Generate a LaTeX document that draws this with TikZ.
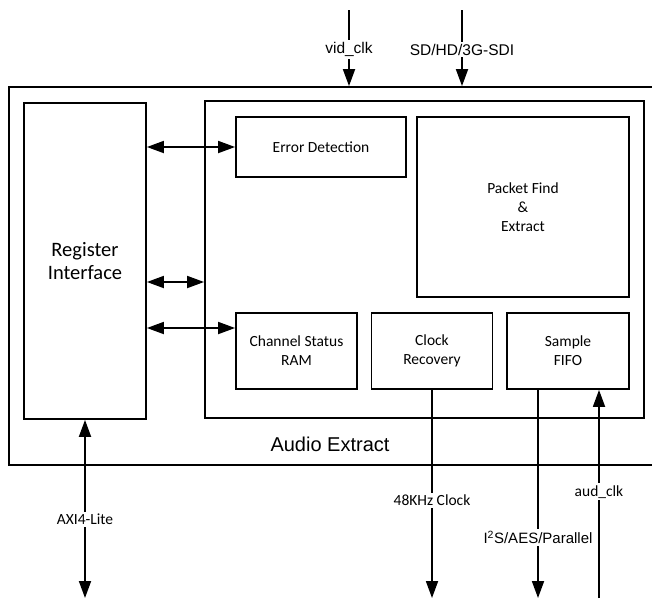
\documentclass[tikz,border=0pt]{standalone}
\usepackage{fontspec}
\setmainfont{Carlito}
\newfontfamily\arialfont{Liberation Sans}
\usetikzlibrary{arrows.meta}

\tikzset{
  frame/.style={draw, line width=1.8pt, inner sep=0pt},
  blk/.style={frame, align=center, font=\fontsize{15.5}{19}\selectfont},
  wire/.style={line width=1.8pt},
  tag/.style={fill=white, inner sep=2pt, font=\fontsize{15.5}{18}\selectfont},
  tagsf/.style={fill=white, inner sep=2pt, font=\arialfont\fontsize{15.5}{18}\selectfont},
}

\begin{document}
\begin{tikzpicture}[x=1pt, y=-1pt, >={Triangle[length=17pt,width=12pt]}]
    \useasboundingbox (0,0) rectangle (652,598);

    % ---- Audio Extract block ----
    \node[frame, minimum width=671pt, minimum height=378pt] (ae) at (344.5,276) {};
    \node[font=\arialfont\fontsize{20}{24}\selectfont] (aelbl) at (330,444) {Audio Extract};

    % ---- register interface ----
    \node[blk, minimum width=122pt, minimum height=316pt,
      font=\fontsize{20.5}{23}\selectfont] (reg) at (85,261) {Register\\Interface};

    % ---- core and sub blocks ----
    \node[frame, minimum width=439pt, minimum height=317pt] (core) at (424.5,259.5) {};
    \node[blk, minimum width=170pt, minimum height=60pt]  (err)  at (321,147)   {Error Detection};
    \node[blk, minimum width=212pt, minimum height=180pt] (pkt)  at (523,207)   {Packet Find\\\&\\Extract};
    \node[blk, minimum width=121pt, minimum height=76pt]  (csr)  at (296.5,351) {Channel Status\\RAM};
    \node[blk, minimum width=121pt, minimum height=76pt]  (clk)  at (432,351)   {Clock\\Recovery};
    \node[blk, minimum width=122pt, minimum height=76pt]  (fifo) at (568,351)   {Sample\\FIFO};

    % register buses
    \draw[wire, <->] (reg.east |- err.west) -- (err.west);
    \draw[wire, <->] (reg.east |- 0,282) -- (core.west |- 0,282);
    \draw[wire, <->] (reg.east |- 0,328) -- (csr.west |- 0,328);

    % ---- inputs at top ----
    \coordinate (vidin) at (349,10);
    \coordinate (sdiin) at (462,10);
    \draw[wire, ->] (vidin) -- node[tagsf, pos=0.52] (vidlbl) {vid\_clk} (vidin |- ae.north);
    \draw[wire, ->] (sdiin) -- node[tagsf, pos=0.52] (sdilbl) {SD/HD/3G-SDI} (sdiin |- ae.north);

    % ---- ports at bottom ----
    \coordinate (axiout) at (85,598);
    \coordinate (clkout) at (432,598);
    \coordinate (i2sout) at (538,598);
    \coordinate (audin)  at (599,598);
    \draw[wire, <->] (reg.south) -- node[tag, pos=0.56] (axilbl) {AXI4-Lite} (axiout);
    \draw[wire, ->] (clk.south) -- node[tag, pos=0.53] (clklbl) {48KHz Clock} (clkout);
    \draw[wire, ->] (fifo.south -| i2sout) -- node[tagsf, pos=0.71, font=\arialfont\fontsize{15}{18}\selectfont] (i2slbl)
      {I\textsuperscript{2}S/AES/Parallel} (i2sout);
    \draw[wire, ->] (audin) -- node[tag, pos=0.51] (audlbl) {aud\_clk} (fifo.south -| audin);

\end{tikzpicture}
\end{document}
